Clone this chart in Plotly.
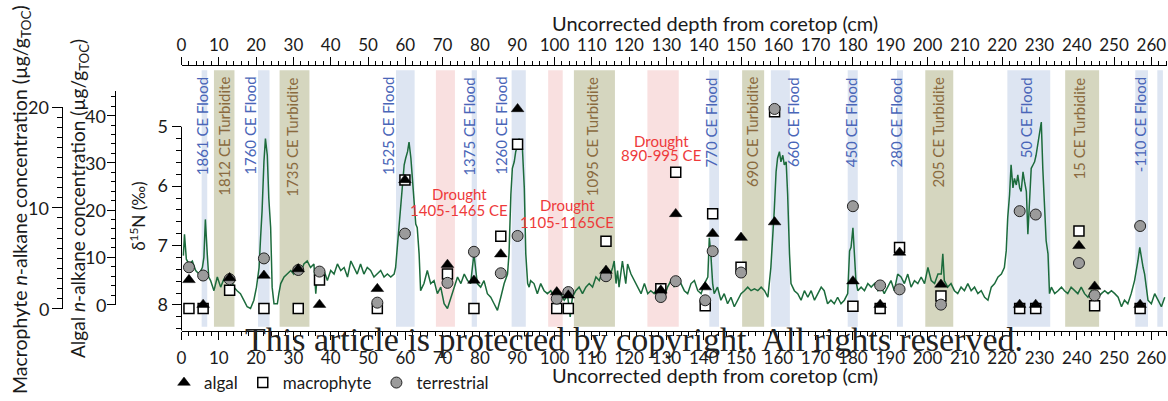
import plotly.graph_objects as go

W, H = 1168, 401

# ---------------- data ----------------
depth_cm = [
    0.5, 0.8, 1.3, 2.0, 2.9, 3.8, 4.7, 5.6, 6.0, 6.4,
    6.9, 7.3, 7.8, 8.7, 9.6, 10.5, 11.4, 12.3, 13.2, 14.0,
    14.9, 15.8, 16.7, 17.6, 18.5, 19.4, 20.1, 20.8, 21.2, 21.6,
    22.1, 22.5, 23.0, 23.4, 23.9, 24.3, 24.8, 25.7, 26.1, 26.6,
    27.5, 28.4, 29.3, 30.1, 31.0, 31.9, 32.8, 33.7, 34.6, 35.5,
    36.0, 36.4, 37.3, 38.2, 39.1, 40.0, 40.9, 41.8, 42.7, 43.6,
    44.5, 45.4, 46.2, 47.1, 48.0, 48.9, 49.8, 50.7, 51.6, 52.5,
    53.4, 54.3, 55.2, 56.1, 57.0, 57.4, 57.9, 58.3, 58.8, 59.2,
    59.7, 60.1, 60.6, 61.0, 61.5, 61.9, 62.3, 62.8, 63.2, 63.7,
    64.1, 65.0, 65.9, 66.8, 67.7, 68.6, 69.5, 70.4, 71.3, 72.2,
    73.1, 74.0, 74.9, 75.8, 76.7, 77.5, 78.4, 78.9, 79.3, 80.2,
    81.1, 82.0, 82.9, 83.8, 84.7, 85.6, 86.5, 87.4, 87.8, 88.3,
    88.7, 89.2, 89.6, 90.1, 90.5, 91.0, 91.4, 91.9, 92.3, 92.8,
    93.2, 93.6, 94.5, 95.4, 96.3, 97.2, 98.1, 99.0, 99.9, 100.8,
    101.7, 102.6, 103.5, 104.2, 104.8, 105.7, 106.6, 107.5, 108.4, 109.3,
    110.2, 111.1, 112.0, 112.9, 113.8, 114.7, 115.6, 116.0, 116.5, 116.9,
    117.3, 117.8, 118.2, 119.1, 119.6, 120.5, 121.4, 122.3, 123.2, 124.1,
    125.0, 125.8, 126.7, 127.6, 128.5, 129.4, 130.3, 131.2, 132.1, 133.0,
    133.9, 134.8, 135.7, 136.6, 137.5, 138.4, 139.3, 140.2, 141.1, 141.5,
    141.9, 142.4, 142.8, 143.7, 144.6, 145.5, 146.4, 147.3, 148.2, 149.1,
    150.0, 150.9, 151.8, 152.7, 153.6, 154.5, 155.4, 156.3, 157.2, 158.0,
    158.5, 158.9, 159.4, 159.8, 160.3, 160.7, 161.2, 161.6, 162.1, 162.5,
    163.0, 163.4, 164.3, 165.2, 166.1, 167.0, 167.9, 168.8, 169.7, 170.6,
    171.5, 172.3, 173.2, 174.1, 175.0, 175.9, 176.8, 177.7, 178.6, 179.1,
    179.5, 180.0, 180.4, 180.8, 181.3, 182.2, 183.1, 184.0, 184.9, 185.8,
    186.7, 187.6, 188.4, 189.3, 190.2, 191.1, 192.0, 192.9, 193.8, 194.7,
    195.6, 196.5, 197.4, 198.3, 199.2, 200.1, 201.0, 201.9, 202.8, 203.7,
    204.1, 204.5, 205.4, 206.3, 207.2, 208.1, 209.0, 209.9, 210.8, 211.7,
    212.6, 213.5, 214.4, 215.3, 216.2, 217.1, 218.0, 218.9, 219.8, 220.6,
    221.1, 221.5, 222.0, 222.4, 222.9, 223.3, 223.8, 224.2, 224.7, 225.1,
    225.6, 226.0, 226.5, 226.9, 227.4, 227.8, 228.3, 228.7, 229.1, 229.6,
    230.0, 230.5, 230.9, 231.4, 231.8, 232.3, 232.7, 233.2, 234.1, 235.0,
    235.9, 236.7, 237.6, 238.5, 239.4, 240.3, 241.2, 242.1, 243.0, 243.9,
    244.8, 245.7, 246.6, 247.5, 248.4, 249.3, 250.2, 251.1, 252.0, 252.8,
    253.7, 254.6, 255.5, 256.0, 256.4, 256.9, 257.3, 257.8, 258.2, 258.7,
    259.1, 260.0, 260.9, 261.8, 262.7, 263.6,
]
d15n = [
    7.17, 6.81, 7.23, 7.31, 7.26, 7.42, 7.48, 7.37, 7.20, 6.56,
    7.14, 7.53, 7.59, 7.76, 7.53, 7.70, 7.56, 7.64, 7.53, 7.70,
    7.76, 7.81, 7.92, 8.03, 8.06, 7.92, 7.70, 7.37, 6.87, 6.42,
    5.59, 5.20, 5.48, 6.20, 6.70, 7.70, 7.98, 7.98, 7.81, 7.64,
    7.53, 7.48, 7.42, 7.48, 7.37, 7.48, 7.31, 7.26, 7.37, 7.31,
    7.81, 7.48, 7.53, 7.42, 7.59, 7.42, 7.48, 7.31, 7.42, 7.37,
    7.53, 7.26, 7.37, 7.48, 7.31, 7.48, 7.37, 7.42, 7.53, 7.48,
    7.42, 7.53, 7.48, 7.53, 7.48, 7.37, 6.98, 6.59, 6.31, 5.92,
    5.64, 5.53, 5.42, 5.26, 5.53, 5.87, 6.31, 6.64, 6.70, 7.14,
    7.76, 7.64, 7.42, 7.64, 7.59, 7.81, 7.70, 7.98, 8.06, 7.87,
    7.70, 7.53, 7.64, 7.48, 7.59, 7.64, 7.14, 7.42, 7.64, 7.70,
    7.59, 7.81, 7.87, 7.98, 8.09, 7.87, 7.64, 7.48, 7.14, 6.14,
    5.70, 5.59, 5.42, 5.31, 5.20, 5.31, 5.37, 6.03, 7.14, 7.64,
    7.70, 7.59, 7.64, 7.81, 7.64, 7.76, 7.81, 7.76, 7.87, 7.92,
    7.81, 7.92, 7.84, 8.20, 7.87, 7.76, 7.70, 7.81, 7.70, 7.64,
    7.70, 7.53, 7.59, 7.42, 7.48, 7.53, 7.37, 7.26, 7.64, 7.42,
    7.70, 7.48, 7.26, 7.64, 7.31, 7.48, 7.59, 7.70, 7.81, 7.64,
    7.81, 7.76, 7.81, 7.70, 7.78, 7.87, 7.70, 7.59, 7.70, 7.53,
    7.64, 7.76, 7.81, 7.64, 7.59, 7.76, 7.81, 7.64, 7.53, 6.87,
    7.14, 7.64, 7.81, 7.70, 7.92, 7.81, 7.98, 7.87, 8.03, 7.92,
    7.81, 7.76, 7.70, 7.76, 7.73, 7.76, 7.70, 7.76, 7.87, 7.37,
    6.87, 6.42, 5.76, 5.53, 5.42, 5.59, 5.48, 5.64, 5.59, 6.14,
    7.14, 7.64, 7.76, 7.81, 7.92, 7.76, 7.87, 7.76, 7.92, 7.81,
    7.70, 7.76, 7.98, 7.92, 7.98, 7.87, 7.98, 7.92, 7.81, 7.09,
    7.03, 6.70, 7.14, 7.59, 7.76, 7.70, 7.76, 7.64, 7.70, 7.64,
    7.76, 7.70, 7.81, 7.70, 7.59, 7.76, 7.48, 7.53, 7.64, 7.48,
    7.70, 7.59, 7.64, 7.53, 7.64, 7.37, 7.59, 7.64, 7.48, 7.48,
    7.14, 7.59, 7.70, 7.64, 7.76, 7.81, 7.70, 7.76, 7.64, 7.76,
    7.70, 7.81, 7.76, 7.87, 7.92, 7.70, 7.64, 7.53, 7.48, 7.37,
    7.09, 6.53, 6.14, 5.64, 6.03, 5.87, 5.98, 5.81, 6.03, 6.09,
    5.76, 5.92, 6.09, 6.81, 6.03, 5.70, 5.64, 5.59, 5.48, 5.26,
    5.09, 4.92, 5.70, 6.42, 6.92, 7.14, 7.81, 7.70, 7.81, 7.76,
    7.70, 7.76, 7.81, 7.70, 7.76, 7.81, 7.70, 7.81, 7.87, 7.76,
    7.81, 7.87, 7.81, 7.76, 7.81, 7.76, 7.81, 7.87, 8.03, 7.92,
    7.98, 7.81, 7.59, 7.42, 7.26, 7.03, 7.20, 7.37, 7.48, 7.76,
    7.92, 7.98, 7.81, 7.92, 8.03, 7.87,
]

sample_depth = [2.0, 5.8, 12.9, 22.1, 31.3, 37.0, 52.5, 59.9, 71.3, 78.4,
                85.6, 90.1, 100.6, 103.7, 113.8, 128.5, 132.5, 140.4, 142.4, 150.0,
                159.0, 180.0, 187.3, 192.5, 203.6, 224.7, 229.0, 240.6, 244.8, 257.0]
algal = [5.24, 0, 5.65, 6.16, 7.54, 0, 3.35, 26.39, 8.46, 5.11,
         10.68, 41.40, 2.66, 1.97, 7.20, 3.02, 19.20, 3.71, 15.02, 14.18,
         17.47, 4.96, 0, 11.04, 4.27, 0, 0, 12.44, 3.85, 0]
macrophyte = [0, 0, 1.81, 0, 0, 2.85, 0, 12.78, 3.44, 0,
              7.18, 16.32, 0, 0, 6.69, 1.97, 13.54, 0.27, 9.41, 4.10,
              19.54, 0.24, 0, 6.07, 1.25, 0, 0, 7.71, 0.27, 0]
terrestrial = [7.90, 6.16, 5.38, 9.78, 7.33, 6.99, 0.42, 15.02, 4.61, 11.18,
               6.64, 14.53, 1.26, 2.66, 6.01, 1.61, 4.96, 0.92, 11.31, 6.79,
               41.40, 20.82, 4.06, 3.23, 0, 19.77, 19.06, 8.80, 1.97, 16.63]

flood_bands = [(5.4, 6.9), (20.5, 23.6), (57.5, 62.5), (77.8, 79.2), (88.5, 92.3),
               (141.5, 144.1), (158.0, 163.1), (178.6, 181.3), (191.8, 193.4),
               (221.4, 232.9), (255.7, 259.1), (261.6, 263.1)]
turbidite_bands = [(8.7, 14.2), (26.3, 34.3), (105.2, 116.2), (150.3, 156.2),
                   (199.4, 206.9), (236.9, 246.0)]
drought_bands = [(68.2, 73.3), (98.3, 102.2), (124.9, 133.3)]

flood_labels = ["1861 CE Flood", "1760 CE Flood", "1525 CE Flood", "1375 CE Flood",
                "1260 CE Flood", "770 CE Flood", "660 CE Flood", "450 CE Flood",
                "280 CE Flood", "50 CE Flood", "-110 CE Flood"]
flood_label_x = [5.5, 18.5, 55.3, 77.2, 85.8, 142.0, 163.9, 179.5, 191.6, 226.3, 256.8]
turb_labels = ["1812 CE Turbidite", "1735 CE Turbidite", "1095 CE Turbidite",
               "690 CE Turbidite", "205 CE Turbidite", "15 CE Turbidite"]
turb_label_x = [11.4, 29.6, 109.9, 152.9, 202.9, 240.7]
drought_labels = [("Drought", "1405-1465 CE"), ("Drought", "1105-1165CE"), ("Drought", "890-995 CE")]
drought_label_x = [74.4, 103.4, 128.6]
drought_label_py = [(196, 212), (207, 224), (142, 157)]

d15n_major = [5, 6, 7, 8]
d15n_minor = [5.2, 5.4, 5.6, 5.8, 6.2, 6.4, 6.6, 6.8, 7.2, 7.4, 7.6, 7.8, 8.2, 8.4]
macro_major = [0, 10, 20]
algal_major = [0, 10, 20, 30, 40]

# ---------------- helpers (pixel -> paper) ----------------
def fx(p):
    return p / W

def fy(p):
    return (H - p) / H

FONT = "Lato"
FLOOD_FILL = "#dde5f2"
TURB_FILL = "#d5d6bf"
DROUGHT_FILL = "#f9e0e0"
FLOOD_TXT = "#4a66b8"
TURB_TXT = "#8a6a3e"
DROUGHT_TXT = "#ee3a3a"

fig = go.Figure()

fig.add_trace(go.Scatter(x=depth_cm, y=d15n, mode="lines",
                         line=dict(color="#1c6b3c", width=1.5),
                         xaxis="x", yaxis="y", showlegend=False, hoverinfo="skip"))
# empty traces that only register the helper subplots carrying the axes
fig.add_trace(go.Scatter(x=[None], y=[None], mode="markers", xaxis="x2", yaxis="y",
                         showlegend=False, hoverinfo="skip"))
fig.add_trace(go.Scatter(x=[None], y=[None], mode="markers", xaxis="x3", yaxis="y2",
                         showlegend=False, hoverinfo="skip"))
fig.add_trace(go.Scatter(x=[None], y=[None], mode="markers", xaxis="x4", yaxis="y3",
                         showlegend=False, hoverinfo="skip"))
fig.add_trace(go.Scatter(x=sample_depth, y=macrophyte, mode="markers", name="macrophyte",
                         marker=dict(symbol="square", size=10, color="white",
                                     line=dict(color="black", width=1.5)),
                         xaxis="x", yaxis="y2", cliponaxis=False, legendrank=2))
fig.add_trace(go.Scatter(x=sample_depth, y=terrestrial, mode="markers", name="terrestrial",
                         marker=dict(symbol="circle", size=11, color="#9b9b9b",
                                     line=dict(color="#222222", width=1)),
                         xaxis="x", yaxis="y3", cliponaxis=False, legendrank=3))
fig.add_trace(go.Scatter(x=sample_depth, y=algal, mode="markers", name="algal",
                         marker=dict(symbol="triangle-up", size=11, color="black",
                                     line=dict(color="black", width=0.5)),
                         xaxis="x", yaxis="y3", cliponaxis=False, legendrank=1))

shapes = []
for bands, col in ((flood_bands, FLOOD_FILL), (turbidite_bands, TURB_FILL), (drought_bands, DROUGHT_FILL)):
    for a, b in bands:
        shapes.append(dict(type="rect", xref="x", yref="paper", x0=a, x1=b,
                           y0=fy(330), y1=fy(71), fillcolor=col, line=dict(width=0),
                           layer="below"))
# the d15N axis line only spans the labelled part of its scale
shapes.append(dict(type="line", xref="paper", yref="y", x0=fx(181.5), x1=fx(181.5),
                   y0=d15n_major[0], y1=8.433, line=dict(color="black", width=1)))

ann = []
for t, xv in zip(flood_labels, flood_label_x):
    ann.append(dict(text=t, x=xv, xref="x", y=fy(76), yref="paper", textangle=-90,
                    xanchor="center", yanchor="top", showarrow=False,
                    font=dict(size=15, color=FLOOD_TXT)))
for t, xv in zip(turb_labels, turb_label_x):
    ann.append(dict(text=t, x=xv, xref="x", y=fy(76), yref="paper", textangle=-90,
                    xanchor="center", yanchor="top", showarrow=False,
                    font=dict(size=15, color=TURB_TXT)))
for (l1, l2), xv, (p1, p2) in zip(drought_labels, drought_label_x, drought_label_py):
    for t, p in ((l1, p1), (l2, p2)):
        ann.append(dict(text=t, x=xv, xref="x", y=fy(p), yref="paper",
                        xanchor="center", yanchor="middle", showarrow=False,
                        font=dict(size=15, color=DROUGHT_TXT)))

# tick labels of the two concentration scales, placed on their own axes' values
for v in macro_major:
    ann.append(dict(text=str(v), x=fx(51), xref="paper", y=v, yref="y2",
                    xanchor="right", yanchor="middle", showarrow=False,
                    font=dict(size=18)))
for v in algal_major:
    ann.append(dict(text=str(v), x=fx(108), xref="paper", y=v, yref="y3",
                    xanchor="right", yanchor="middle", showarrow=False,
                    font=dict(size=18)))

# axis titles
ann.append(dict(text="Uncorrected depth from coretop (cm)", x=fx(715), y=fy(23),
                xref="paper", yref="paper", showarrow=False, xanchor="center",
                yanchor="middle", font=dict(size=20)))
ann.append(dict(text="Uncorrected depth from coretop (cm)", x=fx(715), y=fy(379),
                xref="paper", yref="paper", showarrow=False, xanchor="center",
                yanchor="middle", font=dict(size=20)))
ann.append(dict(text="δ<sup>15</sup>N (‰)", x=fx(138), y=fy(219), xref="paper", yref="paper",
                showarrow=False, textangle=-90, xanchor="center", yanchor="middle",
                font=dict(size=17)))
ann.append(dict(text="Macrophyte <i>n</i>-alkane concentration (µg/g<sub>TOC</sub>)",
                x=fx(21), y=fy(202), xref="paper", yref="paper", showarrow=False,
                textangle=-90, xanchor="center", yanchor="middle", font=dict(size=19.5)))
ann.append(dict(text="Algal <i>n</i>-alkane concentration (µg/g<sub>TOC</sub>)",
                x=fx(79), y=fy(201), xref="paper", yref="paper", showarrow=False,
                textangle=-90, xanchor="center", yanchor="middle", font=dict(size=19)))
# watermark present in the reference image
ann.append(dict(text="This article is protected by copyright. All rights reserved.",
                x=fx(634), y=fy(343), xref="paper", yref="paper", showarrow=False,
                xanchor="center", yanchor="middle",
                font=dict(size=34, family="Liberation Serif", color="#222222")))

axis_common = dict(showgrid=False, zeroline=False, linecolor="black",
                   linewidth=1, ticks="outside", tickcolor="black", automargin=False)
hidden_x = dict(range=[0, 1], showline=False, showgrid=False, zeroline=False,
                showticklabels=False, ticks="", automargin=False, fixedrange=True)

x_dom = [fx(181.5), fx(1167)]
x_rng = [0, 264.2]
y_dom = [fy(334), fy(67)]

fig.update_layout(
    width=W, height=H,
    margin=dict(l=0, r=0, t=0, b=0),
    paper_bgcolor="white", plot_bgcolor="rgba(0,0,0,0)",
    font=dict(family=FONT, size=17, color="#1a1a1a"),
    shapes=shapes, annotations=ann,
    showlegend=True,
    legend=dict(orientation="h", x=fx(164), y=fy(387), xanchor="left", yanchor="middle",
                font=dict(size=17), bgcolor="rgba(0,0,0,0)", itemwidth=30,
                traceorder="normal"),
    xaxis=dict(domain=x_dom, range=x_rng, anchor="y", side="bottom", showline=True,
               tick0=0, dtick=10, ticklen=8, tickfont=dict(size=17),
               minor=dict(tick0=0, dtick=2, ticklen=4, ticks="outside", tickcolor="black"),
               ticklabelstandoff=4, **axis_common),
    xaxis2=dict(domain=x_dom, range=x_rng, anchor="y", side="top", overlaying="x",
                showline=True, tick0=0, dtick=10, ticklen=8, tickfont=dict(size=17),
                minor=dict(tick0=0, dtick=2, ticklen=4, ticks="outside", tickcolor="black"),
                **axis_common),
    # helper x axes whose left edges carry the two concentration scales
    xaxis3=dict(domain=[fx(63), fx(64)], anchor="y2", **hidden_x),
    xaxis4=dict(domain=[fx(116), fx(117)], anchor="y3", **hidden_x),
    yaxis=dict(domain=y_dom, range=[8.433, 3.983], anchor="x", showline=False,
               tickmode="array", tickvals=d15n_major, ticklen=9, tickfont=dict(size=18),
               minor=dict(tickmode="array", tickvals=d15n_minor, ticklen=5,
                          ticks="outside", tickcolor="black"),
               **axis_common),
    yaxis2=dict(domain=[fy(311.7), fy(108.3)], range=[0, 20], anchor="x3",
                side="left", showline=True, tickmode="array", tickvals=macro_major,
                ticklen=10, showticklabels=False,
                minor=dict(tick0=0, dtick=1, ticklen=5, ticks="outside", tickcolor="black"),
                **axis_common),
    yaxis3=dict(domain=[fy(307.7), fy(91.7)], range=[0, 45.24], anchor="x4",
                side="left", showline=True, tickmode="array", tickvals=algal_major,
                ticklen=8, showticklabels=False,
                minor=dict(tick0=0, dtick=2, ticklen=4, ticks="outside", tickcolor="black"),
                **axis_common),
)

fig.write_html("out.html")
